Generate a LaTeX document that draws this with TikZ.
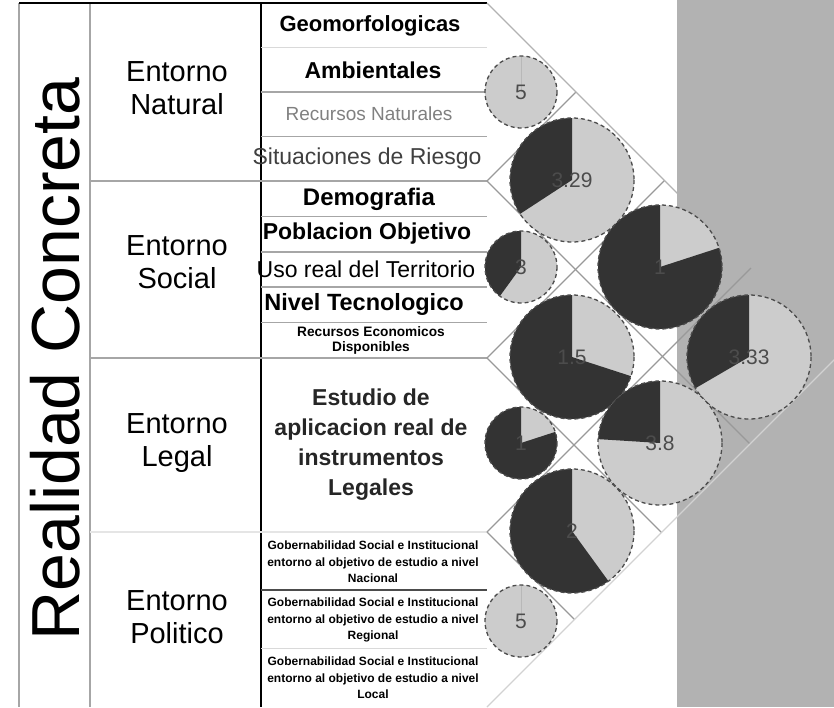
\documentclass[tikz,border=0pt]{standalone}
\usepackage{fontspec}
\setmainfont{Liberation Sans}
\usepackage{xcolor}

\begin{document}
\begin{tikzpicture}[x=1pt,y=-1pt,
  every node/.style={inner sep=0pt,align=center},
  rowline/.style={gray!70,line width=1.6pt},
  grid/.style={gray!80,line width=1.2pt},
  lightpie/.style={fill=gray!40},
  darkpie/.style={fill=black!80},
  pieedge/.style={draw=black!70,line width=1.3pt,dash pattern=on 4pt off 3pt},
  pienum/.style={font=\fontsize{21}{21}\selectfont,text=black!70},
  entorno/.style={font=\fontsize{29}{33}\selectfont},
  item/.style={font=\fontsize{23}{23}\selectfont},
  bitem/.style={font=\fontsize{23}{23}\selectfont\bfseries},
  tiny/.style={font=\fontsize{12}{16.5}\selectfont\bfseries}]

\useasboundingbox (0,0) rectangle (834,707);
\clip (0,0) rectangle (834,707);

% margen gris
\fill[gray!60] (677,0) rectangle (834,707);

% columnas
\draw[gray!70,line width=1.5pt] (19,3) -- (19,707);
\draw[gray!70,line width=1.5pt] (90,3) -- (90,707);
\draw[line width=2pt] (261,3) -- (261,707);
\draw[line width=2.5pt] (19,3) -- (487,3);

% entornos
\draw[rowline] (90,181) -- (487,181);
\draw[rowline] (90,358) -- (487,358);
\draw[rowline,gray!20] (90,532) -- (487,532);

% filas
\draw[rowline,gray!30] (261,47.5) -- (487,47.5);
\foreach \y in {92,136.5} \draw[rowline] (261,\y) -- (487,\y);
\foreach \y in {216.4,251.8,287.2,322.6} \draw[rowline] (261,\y) -- (487,\y);
\draw[rowline,black!70] (261,590) -- (487,590);
\draw[rowline,gray!30] (261,648.5) -- (487,648.5);

% techo
\foreach \b in {181,358,532} {
  \draw[grid] (487,\b) -- ({487+(\b-3)/2},{(\b+3)/2});
  \draw[grid] (487,\b) -- ({487+(707-\b)/2},{(\b+707)/2});
}
\draw[grid,gray!60] (487,3) -- (839,355);
\draw[grid,gray!35] (487,707) -- (839,355);

% pasteles
\foreach \px/\py/\r/\v in {521/92/36/5, 572/180/62/3.29, 521/267/36/3,
    660/267/62/1, 572/357/62/1.5, 749/357/62/3.33, 521/443/36/1,
    660/443/62/3.8, 572/531/62/2, 521/621/36/5} {
  \fill[lightpie] (\px,\py) circle (\r);
  \fill[darkpie] (\px,\py) -- ++(-90:\r) arc (-90:{-90-(1-\v/5)*360}:\r) -- cycle;
  \draw[pieedge] (\px,\py) circle (\r);
  \node[pienum] (n\px-\py) at (\px,\py) {\v};
}

% textos
\node[rotate=90,font=\fontsize{68}{68}\selectfont] (realidad) at (55,359) {Realidad Concreta};

\node[entorno] (natural) at (177,88) {Entorno\\Natural};
\node[entorno] (social) at (177,262) {Entorno\\Social};
\node[entorno] (legal) at (177,443) {Entorno\\Legal};
\node[entorno] (politico) at (177,617) {Entorno\\Politico};

\node[bitem,font=\fontsize{22}{22}\selectfont\bfseries] (geo) at (370,26) {Geomorfologicas};
\node[bitem] (amb) at (373,70) {Ambientales};
\node[item,font=\fontsize{19}{19}\selectfont,text=gray] (recnat) at (369,114) {Recursos Naturales};
\node[item,text=black!75] (riesgo) at (367,159) {Situaciones de Riesgo};
\node[bitem,font=\fontsize{24}{24}\selectfont\bfseries] (demo) at (369,199) {Demografia};
\node[bitem] (pobl) at (367,234) {Poblacion Objetivo};
\node[item] (uso) at (366,269) {Uso real del Territorio};
\node[bitem,font=\fontsize{23.5}{23.5}\selectfont\bfseries] (nivel) at (364,304) {Nivel Tecnologico};
\node[font=\fontsize{13.7}{15}\selectfont\bfseries] (receco) at (371,340) {Recursos Economicos\\Disponibles};

\node[font=\fontsize{23}{30}\selectfont\bfseries,text=black!85] (estudio) at (371,445)
  {Estudio de\\aplicacion real de\\instrumentos\\Legales};

\node[tiny] (nacional) at (373,562) {Gobernabilidad Social e Institucional\\entorno al objetivo de estudio a nivel\\Nacional};
\node[tiny] (regional) at (373,620) {Gobernabilidad Social e Institucional\\entorno al objetivo de estudio a nivel\\Regional};
\node[tiny] (local) at (373,678) {Gobernabilidad Social e Institucional\\entorno al objetivo de estudio a nivel\\Local};

\end{tikzpicture}
\end{document}
